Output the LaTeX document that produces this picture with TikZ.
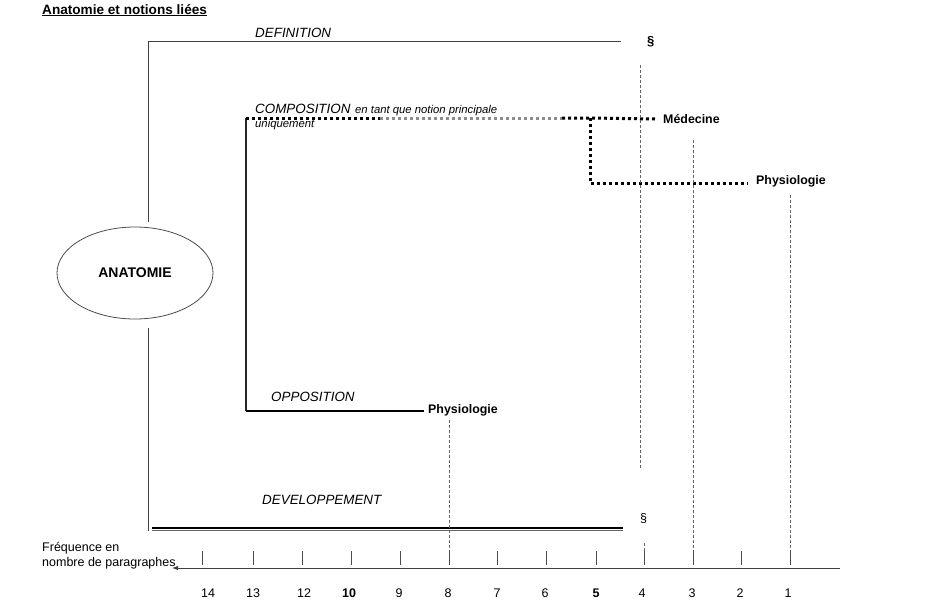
\documentclass[tikz,border=0pt]{standalone}
\usepackage{fontspec}
\setmainfont{Liberation Sans}
\usetikzlibrary{arrows.meta,shapes.geometric}

\tikzset{
  lbl/.style={anchor=base west, inner sep=0pt, font=\fontsize{13.4}{15}\selectfont\itshape},
  small/.style={anchor=base west, inner sep=0pt, font=\fontsize{11.3}{13}\selectfont\itshape},
  term/.style={anchor=base west, inner sep=0pt, font=\fontsize{12.4}{14}\selectfont\bfseries},
  num/.style={anchor=base, inner sep=0pt, font=\fontsize{12.5}{14}\selectfont},
  plain/.style={anchor=base west, inner sep=0pt, font=\fontsize{12.5}{14}\selectfont},
  branch/.style={line width=0.8pt, black!75},
  heavy/.style={line width=2pt, black},
  dots/.style={line width=3pt, black, dash pattern=on 3pt off 3pt},
  greydots/.style={line width=3pt, black!45, dash pattern=on 3pt off 3pt},
  guide/.style={line width=0.7pt, black!60, dash pattern=on 3pt off 2pt},
  tick/.style={line width=0.7pt, black!70},
}

\begin{document}
\begin{tikzpicture}[x=1pt,y=-1pt]
\useasboundingbox (0,0) rectangle (927,600);

% heading
\node[anchor=base west, inner sep=0pt, font=\fontsize{13.6}{15}\selectfont\bfseries] (title) at (42,14) {\underline{Anatomie et notions liées}};

% central concept
\node[draw=black!70, line width=0.8pt, ellipse, minimum width=156, minimum height=92, inner sep=0pt,
      font=\fontsize{14}{16}\selectfont\bfseries] (anat) at (135,273) {ANATOMIE};

% main trunk
\coordinate (trunkTop) at (148,41);
\coordinate (trunkUp) at (148,222);
\coordinate (trunkDown) at (148,328);
\coordinate (trunkBot) at (148,531);
\draw[branch] (trunkUp) -- (trunkTop);
\draw[branch] (trunkDown) -- (trunkBot);

% DEFINITION
\coordinate (defEnd) at (621,41);
\draw[branch] (trunkTop) -- (defEnd);
\node[lbl] (def) at (255,37) {DEFINITION};
\node[anchor=base west, inner sep=0pt, font=\fontsize{13}{15}\selectfont\bfseries] (parA) at (647,45) {§};

% COMPOSITION / OPPOSITION sub-trunk
\coordinate (subTop) at (246,118);
\coordinate (subBot) at (246,411);
\draw[line width=1.2pt, black!85] (subTop) -- (subBot);

\node[lbl] (comp) at (255,113) {COMPOSITION};
\node[small] (compA) at (355,113) {en tant que notion principale};
\node[small] (compB) at (255,127) {uniquement};

\coordinate (c1) at (380,118);
\coordinate (c2) at (562,118);
\coordinate (c3) at (590,118);
\coordinate (c4) at (655,119);
\coordinate (c5) at (590,183);
\coordinate (c6) at (748,183);
\draw[dots] (subTop) -- (c1);
\draw[greydots] (c1) -- (c2);
\draw[dots] (c2) -- (c3) -- (c4);
\draw[dots] (c3) -- (c5) -- (c6);
\node[term] (med) at (663,123) {Médecine};
\node[term] (physA) at (756,184) {Physiologie};

% OPPOSITION
\coordinate (oppEnd) at (424,411);
\draw[heavy] (subBot) -- (oppEnd);
\node[lbl] (opp) at (271,401) {OPPOSITION};
\node[term] (physB) at (428,413) {Physiologie};

% DEVELOPPEMENT
\coordinate (devL) at (152,528);
\coordinate (devR) at (623,528);
\draw[line width=0.8pt, black!60] ([yshift=-2.3pt]devL) -- ([yshift=-2.3pt]devR);
\draw[heavy] (devL) -- (devR);
\node[lbl] (dev) at (262,504) {DEVELOPPEMENT};
\node[anchor=base west, inner sep=0pt, font=\fontsize{12.5}{14}\selectfont] (parB) at (640,522) {§};

% frequency axis
\coordinate (axR) at (840,568);
\coordinate (axL) at (172,568);
\draw[line width=0.8pt, black!75, -{Latex[length=6pt,width=4.5pt]}] (axR) -- (axL);
\node[plain] (freqA) at (42,551) {Fréquence en};
\node[plain] (freqB) at (42,566) {nombre de paragraphes};

\foreach \x/\n in {202/14, 253/13, 302/12, 351/10, 400/9, 449/8,
                   497/7, 546/6, 596/5, 644/4, 693/3, 741/2, 790/1} {
  \coordinate (t\n) at (\x,551);
  \draw[tick] (t\n) -- (\x,565);
}
\foreach \x/\n/\t in {208/14/14, 253/13/13, 304/12/12, 349/10/\textbf{10}, 399/9/9, 448/8/8,
                      497/7/7, 545/6/6, 596/5/\textbf{5}, 642/4/4, 692/3/3, 740/2/2, 788/1/1} {
  \node[num] (n\n) at (\x,597) {\t};
}

% guide lines down to the axis
\coordinate (gA) at (640,65);
\coordinate (gAend) at (640,470);
\draw[guide] (gA) -- (gAend);
\coordinate (gB) at (693,140);
\draw[guide] (gB) -- (t3);
\coordinate (gC) at (790,195);
\draw[guide] (gC) -- (t1);
\coordinate (gD) at (449,420);
\draw[guide] (gD) -- (t8);
\coordinate (gE) at (644,543);
\draw[guide] (gE) -- (t4);

\end{tikzpicture}
\end{document}
